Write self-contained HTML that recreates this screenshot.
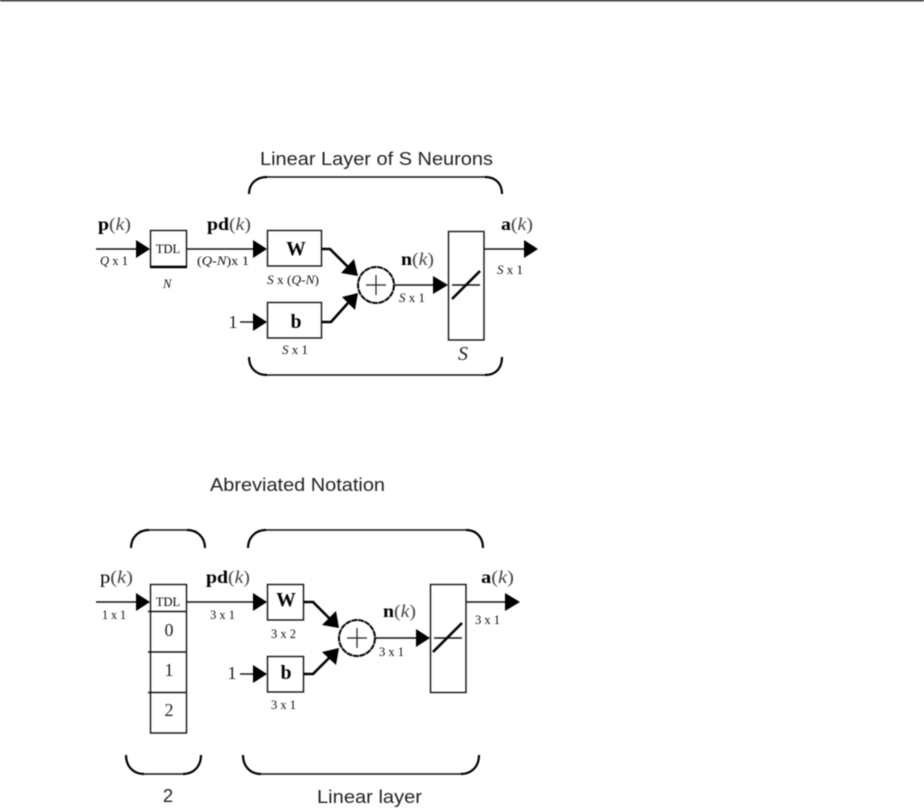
<!DOCTYPE html>
<html>
<head>
<meta charset="utf-8">
<style>
html,body{margin:0;padding:0;background:#fff;width:924px;height:808px;overflow:hidden}
svg{display:block;filter:blur(0.45px)}
.h{font-family:"Liberation Sans",sans-serif;font-size:18.5px;fill:#222}
.s{font-family:"Liberation Serif",serif}
.lab{font-size:18px;fill:#444}
.lab .b{font-weight:bold;fill:#000}
.lab .i{font-style:italic}
.sm{font-size:12.5px;fill:#111}
.sm .i{font-style:italic}
.big{font-size:19.5px;font-weight:bold;fill:#000;text-anchor:middle}
.num{font-size:18px;fill:#222;text-anchor:middle}
.tdl{font-size:12.5px;fill:#000;text-anchor:middle}
</style>
</head>
<body>
<svg width="924" height="808" viewBox="0 0 924 808" xmlns="http://www.w3.org/2000/svg">
<line x1="0" y1="0" x2="924" y2="0" stroke="#000" stroke-width="2.400"/>

<g fill="none" stroke="#111" stroke-width="1.4">
  <!-- upper diagram -->
  <line x1="96" y1="249" x2="138" y2="249"/>
  <rect x="150.500" y="230.500" width="36" height="36"/>
  <line x1="187" y1="249" x2="255" y2="249"/>
  <rect x="267.500" y="230.500" width="54" height="35.500"/>
  <rect x="267.500" y="302.500" width="54" height="35.500"/>
  <line x1="240" y1="322" x2="255" y2="322"/>
  <line x1="394" y1="285" x2="435" y2="285"/>
  <rect x="448.500" y="231.500" width="35.500" height="108.500"/>
  <line x1="452" y1="285" x2="480" y2="285"/>
  <line x1="484" y1="249" x2="526" y2="249"/>
  <!-- lower diagram -->
  <line x1="96" y1="602" x2="138" y2="602"/>
  <rect x="150.500" y="584.500" width="36" height="148.500"/>
  <line x1="187" y1="602" x2="255" y2="602"/>
  <rect x="267.500" y="584.500" width="36" height="35.500"/>
  <rect x="267.500" y="656.500" width="36" height="35.500"/>
  <line x1="240" y1="674" x2="255" y2="674"/>
  <line x1="375" y1="638" x2="418" y2="638"/>
  <rect x="430.500" y="584.500" width="35.500" height="108"/>
  <line x1="434" y1="638" x2="462" y2="638"/>
  <line x1="466" y1="602" x2="507" y2="602"/>
  <line x1="148" y1="611.500" x2="187" y2="611.500"/>
  <line x1="148" y1="652" x2="187" y2="652"/>
  <line x1="148" y1="692.500" x2="187" y2="692.500"/>
</g>
<line x1="150" y1="267" x2="187" y2="267" stroke="#000" stroke-width="2.400"/>

<!-- brackets -->
<g fill="none" stroke="#111" stroke-width="1.500">
  <path d="M249 194C249 184 256 177 267 177H485C496 177 502 184 502 194" />
  <path d="M249 357C249 368 256 375 267 375H485C496 375 502 368 502 357"/>
  <path d="M131 548C131 538 138 530 149 530H187C198 530 205 538 205 548"/>
  <path d="M248 548C248 538 255 530 266 530H466C477 530 483 538 483 548"/>
  <path d="M126 755C126 766 133 774 144 774H183C194 774 201 766 201 755"/>
  <path d="M243 755C243 766 250 774 261 774H461C472 774 479 766 479 755"/>
</g>
<g fill="none" stroke="#000" stroke-width="2.200">
  <path d="M249 194C249 184 256 177 267 177"/>
  <path d="M485 177C496 177 502 184 502 194"/>
  <path d="M249 357C249 368 256 375 267 375"/>
  <path d="M485 375C496 375 502 368 502 357"/>
  <path d="M131 548C131 538 138 530 149 530"/>
  <path d="M187 530C198 530 205 538 205 548"/>
  <path d="M248 548C248 538 255 530 266 530"/>
  <path d="M466 530C477 530 483 538 483 548"/>
  <path d="M126 755C126 766 133 774 144 774"/>
  <path d="M183 774C194 774 201 766 201 755"/>
  <path d="M243 755C243 766 250 774 261 774"/>
  <path d="M461 774C472 774 479 766 479 755"/>
</g>

<!-- arrowheads -->
<g fill="#000">
  <path d="M136 240L150 249L136 258Z"/>
  <path d="M253 240L267 249L253 258Z"/>
  <path d="M253 313L267 322L253 331Z"/>
  <path d="M433 276L448 285L433 294Z"/>
  <path d="M524 240L538 249L524 258Z"/>
  <path d="M136 593L150 602L136 611Z"/>
  <path d="M253 593L267 602L253 611Z"/>
  <path d="M253 665L267 674L253 683Z"/>
  <path d="M416 629L430 638L416 647Z"/>
  <path d="M505 593L520 602L505 611Z"/>
  <!-- diagonal heads upper -->
  <path d="M358 276L341 273L354 259Z"/>
  <path d="M358 293L355 310L342 297Z"/>
  <!-- diagonal heads lower -->
  <path d="M339 628L322 625L336 611Z"/>
  <path d="M339 648L336 665L322 652Z"/>
</g>

<!-- thick connectors -->
<g fill="none" stroke="#000" stroke-width="2.600">
  <path d="M322 249H330L348 267"/>
  <path d="M322 322H331L348 303"/>
  <path d="M304 602H313L331 620"/>
  <path d="M304 674H313L331 656"/>
  <line x1="452" y1="299" x2="480" y2="271"/>
  <line x1="433" y1="652" x2="462" y2="623"/>
</g>

<!-- summing junctions -->
<g fill="#fff" stroke="#000" stroke-width="2" stroke-dasharray="6 0.600">
  <circle cx="376" cy="285" r="18"/>
  <circle cx="357" cy="638" r="18"/>
</g>
<g stroke="#222" stroke-width="1.200">
  <path d="M366 285H386M376 275V295"/>
  <path d="M347 638H367M357 628V648"/>
</g>

<!-- headings -->
<text class="h" x="260" y="165" textLength="233" lengthAdjust="spacingAndGlyphs">Linear Layer of S Neurons</text>
<text class="h" x="210" y="491" textLength="175" lengthAdjust="spacingAndGlyphs">Abreviated Notation</text>
<text class="h" x="317" y="803" textLength="105" lengthAdjust="spacingAndGlyphs">Linear layer</text>
<text class="h" x="168" y="802" text-anchor="middle">2</text>

<g class="s">
<!-- upper labels -->
<text class="s lab" x="98" y="230" textLength="33" lengthAdjust="spacingAndGlyphs"><tspan class="b">p</tspan>(<tspan class="i">k</tspan>)</text>
<text class="s lab" x="207" y="230" textLength="44" lengthAdjust="spacingAndGlyphs"><tspan class="b">pd</tspan>(<tspan class="i">k</tspan>)</text>
<text class="s lab" x="401" y="265" textLength="33" lengthAdjust="spacingAndGlyphs"><tspan class="b">n</tspan>(<tspan class="i">k</tspan>)</text>
<text class="s lab" x="501" y="230" textLength="32" lengthAdjust="spacingAndGlyphs"><tspan class="b">a</tspan>(<tspan class="i">k</tspan>)</text>
<text class="s sm" x="100" y="265" textLength="28" lengthAdjust="spacingAndGlyphs"><tspan class="i">Q</tspan> x 1</text>
<text class="s sm" x="197" y="265" textLength="52" lengthAdjust="spacingAndGlyphs">(<tspan class="i">Q</tspan>-<tspan class="i">N</tspan>)x 1</text>
<text class="s sm" x="163" y="288"><tspan class="i">N</tspan></text>
<text class="s sm" x="267" y="284" textLength="52" lengthAdjust="spacingAndGlyphs"><tspan class="i">S</tspan> x (<tspan class="i">Q</tspan>-<tspan class="i">N</tspan>)</text>
<text class="s sm" x="282" y="354" textLength="26" lengthAdjust="spacingAndGlyphs"><tspan class="i">S</tspan> x 1</text>
<text class="s sm" x="399" y="302" textLength="26" lengthAdjust="spacingAndGlyphs"><tspan class="i">S</tspan> x 1</text>
<text class="s sm" x="497" y="274" textLength="26" lengthAdjust="spacingAndGlyphs"><tspan class="i">S</tspan> x 1</text>
<text class="s" x="463" y="360" font-size="20" font-style="italic" fill="#222" text-anchor="middle">S</text>
<text class="s big" x="296" y="255">W</text>
<text class="s big" x="296" y="328">b</text>
<text class="s num" x="233" y="328">1</text>
<text class="s tdl" x="168" y="253">TDL</text>

<!-- lower labels -->
<text class="s lab" x="100" y="583" textLength="33" lengthAdjust="spacingAndGlyphs"><tspan fill="#000">p</tspan>(<tspan class="i">k</tspan>)</text>
<text class="s lab" x="206" y="583" textLength="44" lengthAdjust="spacingAndGlyphs"><tspan class="b">pd</tspan>(<tspan class="i">k</tspan>)</text>
<text class="s lab" x="383" y="617" textLength="33" lengthAdjust="spacingAndGlyphs"><tspan class="b">n</tspan>(<tspan class="i">k</tspan>)</text>
<text class="s lab" x="481" y="583" textLength="33" lengthAdjust="spacingAndGlyphs"><tspan class="b">a</tspan>(<tspan class="i">k</tspan>)</text>
<text class="s sm" x="102" y="619" textLength="24" lengthAdjust="spacingAndGlyphs">1 x 1</text>
<text class="s sm" x="210" y="619" textLength="25" lengthAdjust="spacingAndGlyphs">3 x 1</text>
<text class="s sm" x="271" y="638" textLength="25" lengthAdjust="spacingAndGlyphs">3 x 2</text>
<text class="s sm" x="271" y="709" textLength="25" lengthAdjust="spacingAndGlyphs">3 x 1</text>
<text class="s sm" x="379" y="656" textLength="25" lengthAdjust="spacingAndGlyphs">3 x 1</text>
<text class="s sm" x="475" y="624" textLength="25" lengthAdjust="spacingAndGlyphs">3 x 1</text>
<text class="s tdl" x="168" y="606">TDL</text>
<text class="s num" x="169" y="636">0</text>
<text class="s num" x="169" y="676">1</text>
<text class="s num" x="169" y="716">2</text>
<text class="s big" x="286" y="606">W</text>
<text class="s big" x="286" y="679">b</text>
<text class="s num" x="232" y="679">1</text>
</g>
</svg>
</body>
</html>
